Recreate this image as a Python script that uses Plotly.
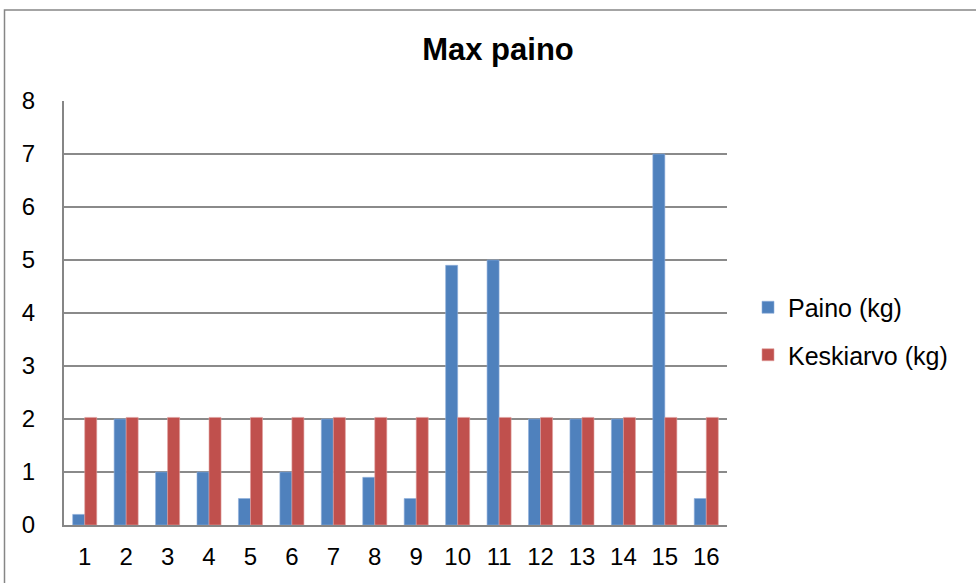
import plotly.graph_objects as go

categories = [str(i) for i in range(1, 17)]
paino = [0.2, 2, 1, 1, 0.5, 1, 2, 0.9, 0.5, 4.9, 5, 2, 2, 2, 7, 0.5]
keskiarvo = [2.03] * 16
y_ticks = [0, 1, 2, 3, 4, 5, 6, 7, 8]

L, R, T, B = 64, 249, 101, 58
W, H = 976, 583
pw, ph = W - L - R, H - T - B

def px_x(p):
    return (p - L) / pw

def px_y(p):
    return (H - B - p) / ph

fig = go.Figure()
fig.add_trace(go.Bar(x=categories, y=paino, name="Paino (kg)",
                     marker=dict(color="#4F81BD", line=dict(width=0.6, color="#8FAEDB")),
                     legendgroup="a"))
fig.add_trace(go.Bar(x=categories, y=keskiarvo, name="Keskiarvo (kg)",
                     marker=dict(color="#C0504D", line=dict(width=0.6, color="#E0A09E")),
                     legendgroup="b"))

fig.update_layout(
    width=W, height=H,
    margin=dict(l=L, r=R, t=T, b=B, pad=0),
    paper_bgcolor="white", plot_bgcolor="white",
    font=dict(family="Liberation Sans, Arial", size=24, color="black"),
    title=dict(text="<b>Max paino</b>", x=498 / W, xref="container", xanchor="center",
               y=1 - 49 / H, yref="container", yanchor="middle", font=dict(size=31)),
    barmode="group", bargap=0.42, bargroupgap=0,
    showlegend=True,
    legend=dict(x=px_x(748), xanchor="left", y=px_y(331), yanchor="middle",
                traceorder="grouped", tracegroupgap=12,
                font=dict(size=25), itemwidth=30, bgcolor="rgba(0,0,0,0)"),
    xaxis=dict(showline=True, linecolor="#868686", linewidth=2, ticks="",
               tickfont=dict(size=24), showgrid=False, ticklabelstandoff=9),
    yaxis=dict(range=[0, 8], tickvals=y_ticks, showgrid=True, gridcolor="#8A8A8A",
               gridwidth=1.5, showline=True, linecolor="#868686", linewidth=2,
               ticks="", tickfont=dict(size=24), zeroline=False, ticklabelstandoff=22),
    shapes=[dict(type="rect", xref="paper", yref="paper",
                 x0=px_x(4.5), x1=px_x(990), y0=px_y(600), y1=px_y(10),
                 line=dict(color="#868686", width=1.5), fillcolor="rgba(0,0,0,0)",
                 layer="below")],
)

fig.write_html("out.html", config={"displayModeBar": False},
               post_script="document.body.style.margin='0';document.body.style.overflow='hidden';")
